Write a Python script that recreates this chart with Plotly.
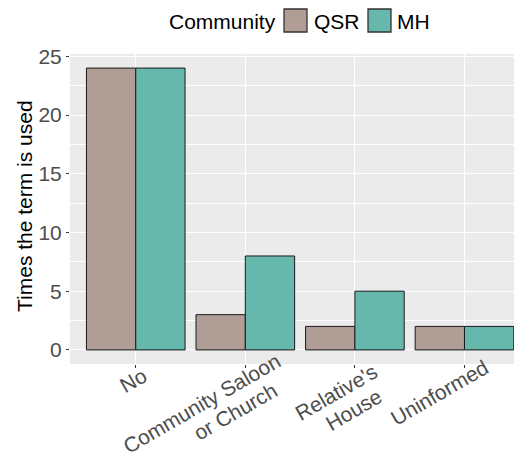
import plotly.graph_objects as go

# ---- data ----
categories = ["No", "Community Saloon<br>or Church", "Relative's<br>House", "Uninformed"]
qsr_values = [24, 3, 2, 2]
mh_values = [24, 8, 5, 2]
series_names = ["QSR", "MH"]
series_colors = ["#B09E96", "#66B8AD"]
y_ticks = [0, 5, 10, 15, 20, 25]
legend_title = "Community"
y_title = "Times the term is used"

# ---- layout constants (pixels) ----
OFF = 8                      # page body margin
W, H = 522 - OFF, 457 - OFF
L, R, T, B = 70 - OFF, 0, 54 - OFF, 93
PW, PH = W - L - R, H - T - B
FONT = "Liberation Sans, Arial, sans-serif"
FS = 21


def px(xs):
    """screen x -> paper x"""
    return (xs - OFF - L) / PW


def py(ys):
    """screen y -> paper y"""
    return (T + PH - (ys - OFF)) / PH


x_idx = list(range(len(categories)))

fig = go.Figure()
for name, vals, col in zip(series_names, [qsr_values, mh_values], series_colors):
    fig.add_trace(go.Bar(x=x_idx, y=vals, name=name, showlegend=False,
                         marker=dict(color=col, line=dict(color="#1a1a1a", width=1))))

fig.update_layout(
    width=W, height=H,
    margin=dict(l=L, r=R, t=T, b=B, autoexpand=False),
    paper_bgcolor="white", plot_bgcolor="#EBEBEB",
    barmode="group", bargap=0.1, bargroupgap=0,
    font=dict(family=FONT, size=FS, color="black"),
    showlegend=False,
)
fig.update_xaxes(
    range=[-0.6, 3.525], tickmode="array", tickvals=x_idx, ticktext=categories,
    showticklabels=False, ticks="outside", ticklen=3, tickcolor="#333333",
    showgrid=True, gridcolor="white", gridwidth=1.1, zeroline=False, showline=False,
    automargin=False,
)
fig.update_yaxes(
    range=[-1.2, 25.2], tickmode="array", tickvals=y_ticks,
    ticks="outside", ticklen=3, tickcolor="#333333",
    tickfont=dict(size=FS, color="#4D4D4D"),
    showgrid=True, gridcolor="white", gridwidth=1.1, zeroline=False, showline=False,
    minor=dict(tickmode="array", tickvals=[2.5, 7.5, 12.5, 17.5, 22.5], showgrid=True,
               gridcolor="white", gridwidth=0.55, ticks=""),
    automargin=False,
)

# y-axis title
fig.add_annotation(text=y_title, xref="paper", yref="paper", x=px(24), y=py(206),
                   xanchor="center", yanchor="middle", textangle=-90, showarrow=False,
                   font=dict(size=FS, color="black"))

# x tick labels (rotated, one annotation per line)
label_lines = [
    [("No", -2.7, 16.8)],
    [("Community Saloon", -44, 39.3), ("or Church", -10, 47)],
    [("Relative's", -19.3, 28.3), ("House", -1, 45)],
    [("Uninformed", -25, 28.3)],
]
for i, lines in enumerate(label_lines):
    for txt, dx, dy in lines:
        fig.add_annotation(text=txt, x=x_idx[i], xref="x", y=0, yref="paper",
                           xshift=dx, yshift=-dy, xanchor="center", yanchor="middle",
                           textangle=-30, showarrow=False,
                           font=dict(size=FS, color="#4D4D4D"))

# legend (manual, drawn with shapes/annotations)
fig.add_annotation(text=legend_title, xref="paper", yref="paper", x=px(167), y=py(22),
                   xanchor="left", yanchor="middle", showarrow=False,
                   font=dict(size=FS, color="black"))
key_boxes = [(284, 307), (368, 391)]
key_text_x = [312, 395]
for (x0, x1), tx, name, col in zip(key_boxes, key_text_x, series_names, series_colors):
    fig.add_shape(type="rect", xref="paper", yref="paper", x0=px(x0), x1=px(x1),
                  y0=py(32), y1=py(9), fillcolor=col, line=dict(color="#333333", width=1.3))
    fig.add_annotation(text=name, xref="paper", yref="paper", x=px(tx), y=py(22),
                       xanchor="left", yanchor="middle", showarrow=False,
                       font=dict(size=FS, color="black"))

fig.write_html("out.html")
